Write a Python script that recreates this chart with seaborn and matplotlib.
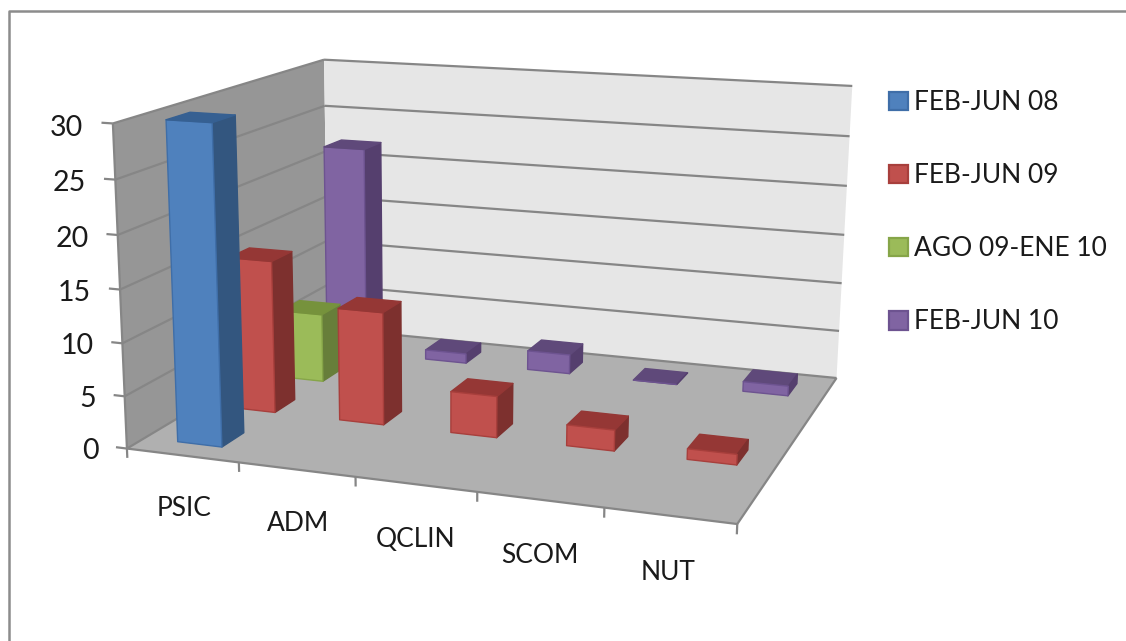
import numpy as np
import matplotlib
matplotlib.use("Agg")
import matplotlib.pyplot as plt
from matplotlib.lines import Line2D
from matplotlib.patches import Patch
from mpl_toolkits.mplot3d.art3d import Line3DCollection, Poly3DCollection
import seaborn as sns

W, H = 1126, 641

categories = ["PSIC", "ADM", "QCLIN", "SCOM", "NUT"]
series = ["FEB-JUN 08", "FEB-JUN 09", "AGO 09-ENE 10", "FEB-JUN 10"]
yticks = [0, 5, 10, 15, 20, 25, 30]

# nan = no bar, 0 = flat bar
feb_jun_08 = [30, np.nan, np.nan, np.nan, np.nan]
feb_jun_09 = [15, 11, 4, 2, 1]
ago_09_ene_10 = [7, np.nan, np.nan, np.nan, np.nan]
feb_jun_10 = [22, 1, 2, 0, 1]
values = [feb_jun_08, feb_jun_09, ago_09_ene_10, feb_jun_10]

front_colors = ["#4f81bd", "#c0504d", "#9bbb59", "#8064a2"]
edge_colors = ["#3f6ea8", "#a83f3c", "#86a548", "#6d5390"]
side_colors = ["#33567f", "#7d302e", "#677e3a", "#553f6e"]
top_colors = ["#366092", "#953735", "#76923c", "#5f497a"]

sns.set_theme(style="white")
plt.rcParams["font.family"] = ["Lato", "DejaVu Sans"]

n_x, n_y, z_max = len(categories), len(series), max(yticks)

# box corners (x, depth, value) and where they sit in the picture
box_pts = [(0, 0, 0), (n_x, 0, 0), (n_x, n_y, 0), (0, n_y, 0),
           (0, 0, z_max), (0, n_y, z_max), (n_x, n_y, z_max)]
box_px = [(128, 449), (737, 524), (837, 378), (327, 328),
          (112, 123), (325, 60), (852, 86)]


def fit_camera(pts, px):
    rows = []
    for (x, y, z), (u, v) in zip(pts, px):
        rows.append([x, y, z, 1, 0, 0, 0, 0, -u * x, -u * y, -u * z, -u])
        rows.append([0, 0, 0, 0, x, y, z, 1, -v * x, -v * y, -v * z, -v])
    p = np.linalg.svd(np.array(rows, float))[2][-1].reshape(3, 4)
    return p / p[2, 3]


camera = fit_camera(box_pts, box_px)


def label(x, y, z, text, dy, **kwargs):
    # text at a box position, as plain figure text
    u, v, w = camera @ [x, y, z, 1]
    fig.text(u / w / W, 1 - (v / w + dy) / H, text, va="center", color="#1a1a1a", **kwargs)


fig = plt.figure(figsize=(W / 100, H / 100), dpi=100, facecolor="white")
ax = fig.add_axes([0, 0, 1, 1], projection="3d", computed_zorder=False)
ax.set_axis_off()


def get_proj():
    # pixels -> the 2d coordinates of the 3d axes
    inv = ax.transData.inverted()
    (x0, y0), (x1, y1) = inv.transform([(0, H), (W, 0)])
    to_data = np.array([[(x1 - x0) / W, 0, 0, x0],
                        [0, (y1 - y0) / H, 0, y0],
                        [0, 0, 1, 0],
                        [0, 0, 0, 1]])
    full = np.vstack([camera[:2], [-0.05, 0.2, -0.01, 1], camera[2]])
    return to_data @ full


ax.get_proj = get_proj

# walls and floor
walls = [
    ([(0, 0, 0), (0, n_y, 0), (0, n_y, z_max), (0, 0, z_max)], "#969696"),
    ([(0, n_y, 0), (n_x, n_y, 0), (n_x, n_y, z_max), (0, n_y, z_max)], "#e6e6e6"),
    ([(0, 0, 0), (n_x, 0, 0), (n_x, n_y, 0), (0, n_y, 0)], "#b0b0b0"),
]
for verts, col in walls:
    ax.add_collection3d(Poly3DCollection([verts], facecolors=col, edgecolors="none",
                                         zorder=1, clip_on=False))

GRID = "#868686"
grid_segs = []
for v in yticks:
    grid_segs.append([(0, 0, v), (0, n_y, v)])
    grid_segs.append([(0, n_y, v), (n_x, n_y, v)])
    grid_segs.append([(-0.1, 0, v), (0, 0, v)])
    label(-0.26, 0, v, str(v), 6, ha="right", fontsize=20.5)
grid_segs.append([(0, 0, 0), (0, 0, z_max)])
grid_segs.append([(0, 0, 0), (n_x, 0, 0)])
grid_segs.append([(n_x, 0, 0), (n_x, n_y, 0)])
for i in range(n_x + 1):
    grid_segs.append([(i, 0, 0), (i, 0, -0.9)])
for i, name in enumerate(categories):
    label(i + 0.5, 0, -4.7, name, 4, ha="center", fontsize=19)
ax.add_collection3d(Line3DCollection(grid_segs, colors=GRID, linewidths=1.6,
                                     zorder=2, clip_on=False))

# bars, back row first
CLEAR = (0, 0, 0, 0)
gap = 0.3
width = 1 - 2 * gap
order = 3
for j in reversed(range(n_y)):
    for i in range(n_x):
        v = values[j][i]
        if np.isnan(v):
            continue
        # face order of bar3d: bottom, top, front, back, left, right
        faces = [CLEAR, top_colors[j], front_colors[j], CLEAR, CLEAR, side_colors[j]]
        edges = [CLEAR, top_colors[j], edge_colors[j], CLEAR, CLEAR, side_colors[j]]
        col = ax.bar3d(i + gap, j + gap, 0, width, width, v, color=faces, edgecolor=edges,
                       linewidth=1.0, shade=False, zorder=order)
        col.set_clip_on(False)
        order += 1

handles = [Patch(facecolor=f, edgecolor=e, linewidth=1.6) for f, e in zip(front_colors, edge_colors)]
fig.legend(handles, series, loc="upper left", bbox_to_anchor=(865.5 / W, 1 - 66.5 / H),
           frameon=False, fontsize=19, handlelength=0.72, handleheight=0.72,
           labelspacing=1.82, handletextpad=0.22, labelcolor="#1a1a1a")

# frame of the chart area, open on the right and at the bottom
fig.add_artist(Line2D([9 / W, 9 / W, 1], [0, 1 - 11 / H, 1 - 11 / H], color="#8c8c8c", lw=1.8))

fig.savefig("out.png", dpi=100)
